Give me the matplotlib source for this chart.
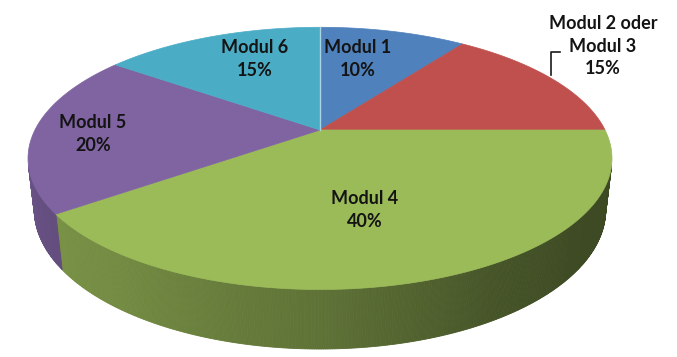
import numpy as np
import matplotlib.pyplot as plt
from matplotlib.patches import Polygon

# --- data ---
labels = ['Modul 1', 'Modul 2 oder\nModul 3', 'Modul 4', 'Modul 5', 'Modul 6']
shares = [10, 15, 40, 20, 15]
top_colors = ['#4F81BD', '#C0504D', '#9BBB59', '#8064A2', '#4BACC6']

# --- view / layout ---
CX, CY = 320, 130          # pie centre in pixels
F = 1183                   # focal length
L_CAM = 4.15               # camera distance
ELEV = np.radians(26)      # camera elevation
THICK = 0.2                # pie thickness
label_xy = [(358, 59), (603, 46), (365, 210), (93, 134), (255, 59)]


def project(x, z, y=0.0):
    s, c = np.sin(ELEV), np.cos(ELEV)
    depth = L_CAM - y * s - z * c
    yc = y * c - z * s
    return CX + F * x / depth, CY - F * yc / depth


def rim(theta, y=0.0):
    # theta in degrees, clockwise from the back (12 o'clock)
    t = np.radians(theta)
    return project(np.sin(t), -np.cos(t), y)


def shade(theta):
    # lighter on the left, dark on the right of the front wall
    return np.interp(theta, [105, 130, 150, 180, 215, 255],
                     [0.39, 0.40, 0.45, 0.61, 0.74, 0.82])


fig = plt.figure(figsize=(6.77, 3.57), dpi=100)
ax = fig.add_axes([0, 0, 1, 1])
ax.set_xlim(0, 677)
ax.set_ylim(357, 0)
ax.axis('off')

bounds = np.concatenate([[0], np.cumsum(shares)]) * 360.0 / sum(shares)

# --- front wall ---
t_vis = np.degrees(np.arccos(-1.0 / (L_CAM * np.cos(ELEV))))
thetas = np.linspace(t_vis, 360 - t_vis, 400)
for a0, a1 in zip(thetas[:-1], thetas[1:]):
    mid = 0.5 * (a0 + a1)
    idx = np.searchsorted(bounds, mid) - 1
    base = np.array(plt.matplotlib.colors.to_rgb(top_colors[idx]))
    col = np.clip(base * shade(mid), 0, 1)
    x0, y0 = rim(a0)
    x1, y1 = rim(a1)
    x2, y2 = rim(a1, -THICK)
    x3, y3 = rim(a0, -THICK)
    ax.add_patch(Polygon([(x0, y0), (x1, y1), (x2, y2), (x3, y3)],
                         closed=True, facecolor=col, edgecolor=col, lw=0.6))

# --- top faces ---
for i in range(len(shares)):
    th = np.linspace(bounds[i], bounds[i + 1], 120)
    xs, ys = rim(th)
    pts = [(CX, CY)] + list(zip(xs, ys))
    ax.add_patch(Polygon(pts, closed=True, facecolor=top_colors[i],
                         edgecolor=top_colors[i], lw=0.5))

# thin light seam between Modul 6 and Modul 1
sx, sy = rim(0.0)
ax.plot([CX, sx], [CY, sy], color='#a8d4e4', lw=1.0)

# --- labels ---
for lab, val, (lx, ly) in zip(labels, shares, label_xy):
    ax.text(lx, ly, f'{lab}\n{val}%', ha='center', va='center',
            fontsize=13, fontweight='bold', family='Lato',
            color='#141414', linespacing=1.38)

# leader line for Modul 2 oder Modul 3
ax.plot([551, 551, 560], [75, 52, 52], color='#1a1a1a', lw=1.2)

fig.savefig('out.png', dpi=100)
